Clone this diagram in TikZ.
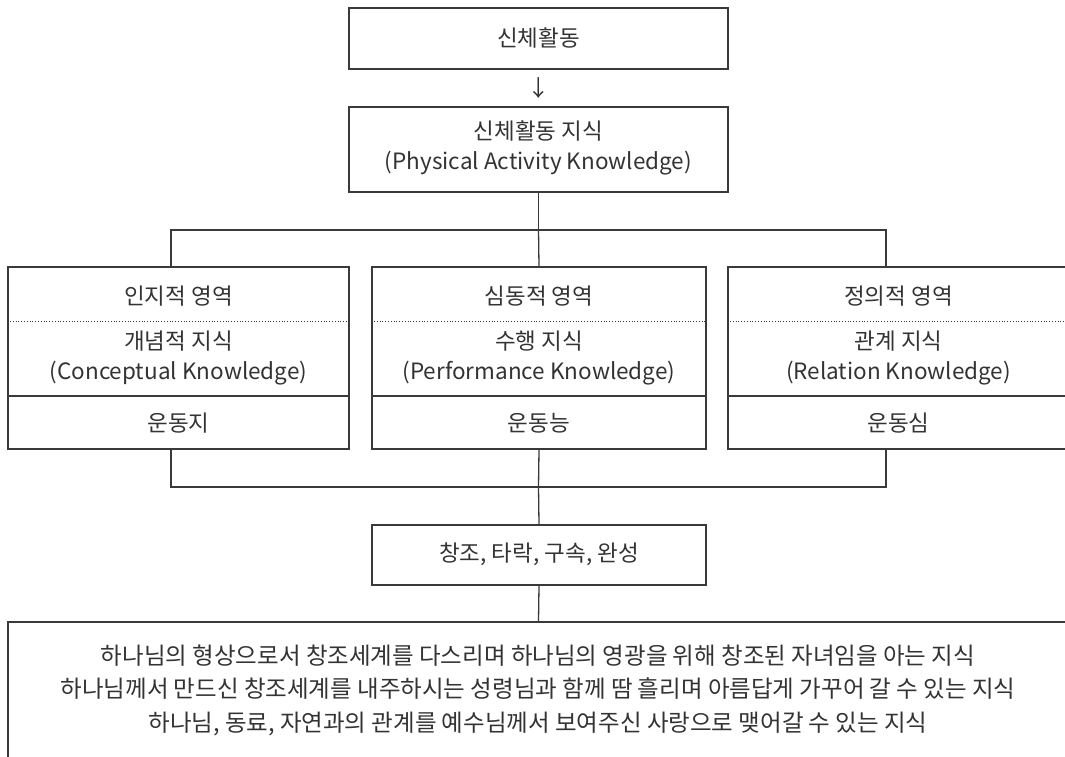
\documentclass[tikz,border=0pt]{standalone}
\usepackage{fontspec}
\setmainfont{Noto Sans CJK KR}
\definecolor{ink}{HTML}{333333}
\definecolor{edge}{HTML}{3A3A3A}
\begin{document}
\begin{tikzpicture}[x=1pt,y=-1pt,
  box/.style={draw=edge,line width=1.6pt,inner sep=0pt,minimum height=#1},
  lbl/.style={text=ink,font=\fontsize{22.5}{30}\selectfont,align=center,inner sep=0pt},
  con/.style={draw=edge,line width=1.3pt},
  sep/.style={draw=edge,line width=0.8pt,dotted}]
\useasboundingbox (0,0) rectangle (1065,756);
\clip (0,0) rectangle (1065,756);
% boxes
\node[box=61pt,minimum width=379pt] (top) at (538.5,38.5) {};
\node[box=85pt,minimum width=379pt] (pk) at (538.5,149.5) {};
\node[box=182pt,minimum width=341pt] (L) at (178.5,358) {};
\node[box=182pt,minimum width=334pt] (M) at (539,358) {};
\node[box=182pt,minimum width=341pt] (R) at (898.5,358) {};
\node[box=60pt,minimum width=334pt] (C) at (539,555) {};
\node[box=170pt,minimum width=1061pt] (B) at (538.5,707) {};
% dividers
\foreach \b in {L,M,R}{
  \draw[sep] (\b.west |- 0,321) -- (\b.east |- 0,321);
  \draw[draw=edge,line width=1.1pt] (\b.west |- 0,396) -- (\b.east |- 0,396);
}
% texts
\node[lbl] (t1) at (538.5,38) {신체활동};
\node[lbl] (arr) at (538.5,88) {↓};
\node[lbl] (t2) at (538.5,148) {신체활동 지식\\(Physical Activity Knowledge)};
\node[lbl] (l1) at (178.5,296) {인지적 영역};
\node[lbl] (l2) at (178.5,357.5) {개념적 지식\\(Conceptual Knowledge)};
\node[lbl] (l3) at (178.5,423) {운동지};
\node[lbl] (m1) at (539,296) {심동적 영역};
\node[lbl] (m2) at (539,357.5) {수행 지식\\(Performance Knowledge)};
\node[lbl] (m3) at (539,423) {운동능};
\node[lbl] (r1) at (898.5,296) {정의적 영역};
\node[lbl] (r2) at (898.5,357.5) {관계 지식\\(Relation Knowledge)};
\node[lbl] (r3) at (898.5,423) {운동심};
\node[lbl] (c1) at (539,554) {창조, 타락, 구속, 완성};
\node[lbl,font=\fontsize{23.5}{33.5}\selectfont] (b1) at (538,690) {하나님의 형상으로서 창조세계를 다스리며 하나님의 영광을 위해 창조된 자녀임을 아는 지식\\하나님께서 만드신 창조세계를 내주하시는 성령님과 함께 땀 흘리며 아름답게 가꾸어 갈 수 있는 지식\\하나님, 동료, 자연과의 관계를 예수님께서 보여주신 사랑으로 맺어갈 수 있는 지식};
% connectors
\coordinate (h1) at (538.5,230);
\coordinate (hL) at (171,230);
\coordinate (hR) at (886,230);
\coordinate (g1) at (538.5,487);
\coordinate (gL) at (171,487);
\coordinate (gR) at (886,487);
\draw[con] (pk.south) -- (h1);
\draw[con] (hL |- L.north) -- (hL) -- (hR) -- (hR |- R.north);
\draw[con] (h1) -- (M.north);
\draw[con] (hL |- L.south) -- (gL) -- (gR) -- (hR |- R.south);
\draw[con] (M.south) -- (g1) -- (C.north);
\draw[con] (C.south) -- (B.north);
\end{tikzpicture}
\end{document}
